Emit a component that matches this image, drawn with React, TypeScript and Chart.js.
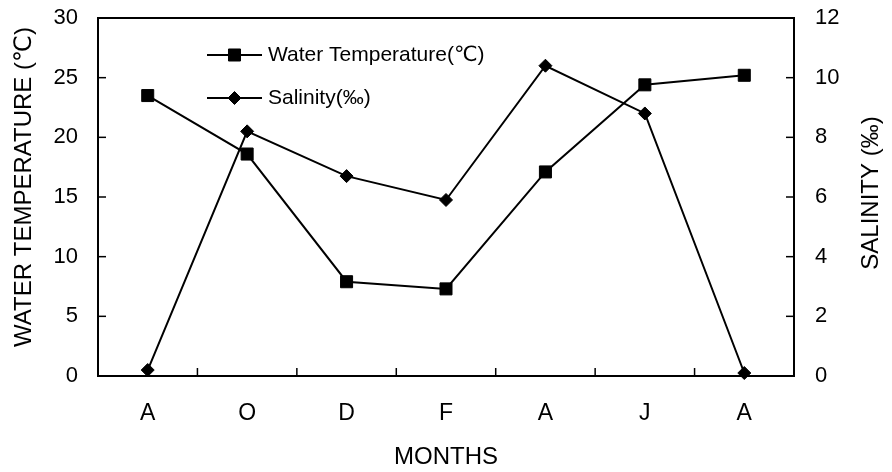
import React, { useEffect, useRef } from 'react';
import { Chart, registerables } from 'chart.js';
import { drawPoint } from 'chart.js/helpers';

Chart.register(...registerables);

const months = ['A', 'O', 'D', 'F', 'A', 'J', 'A'];
const waterTemp = [23.5, 18.6, 7.9, 7.3, 17.1, 24.4, 25.2];
const salinity = [0.2, 8.2, 6.7, 5.9, 10.4, 8.8, 0.1];
const seriesNames = ['Water Temperature(\u2103)', 'Salinity(\u2030)'];
const tempTitle = 'WATER TEMPERATURE (\u2103)';
const salTitle = 'SALINITY (\u2030)';
const xTitle = 'MONTHS';

const FONT = "'Liberation Sans', Arial, 'DejaVu Sans', 'Noto Sans CJK SC', sans-serif";

const framePlugin = {
  id: 'framePlugin',
  afterDatasetsDraw(chart: any) {
    const { ctx, chartArea: a, scales } = chart;
    ctx.save();
    ctx.strokeStyle = '#000';
    ctx.lineWidth = 2;
    ctx.beginPath();
    ctx.moveTo(a.left, a.top);
    ctx.lineTo(a.right, a.top);
    ctx.stroke();

    const L = 8;
    ctx.lineWidth = 1.5;
    const seg = (x1: number, y1: number, x2: number, y2: number) => {
      ctx.beginPath();
      ctx.moveTo(x1, y1);
      ctx.lineTo(x2, y2);
      ctx.stroke();
    };
    scales.y.ticks.forEach((_: any, i: number) => {
      const y = scales.y.getPixelForTick(i);
      seg(a.left, y, a.left + L, y);
    });
    scales.y1.ticks.forEach((_: any, i: number) => {
      const y = scales.y1.getPixelForTick(i);
      seg(a.right, y, a.right - L, y);
    });
    for (let i = 1; i < months.length; i++) {
      const x = (scales.x.getPixelForValue(i - 1) + scales.x.getPixelForValue(i)) / 2;
      seg(x, a.bottom, x, a.bottom - L);
    }

    // axis titles, reading bottom-to-top
    const vTitle = (text: string, x: number, y: number) => {
      ctx.save();
      ctx.fillStyle = '#000';
      ctx.font = `24px ${FONT}`;
      ctx.textAlign = 'center';
      ctx.textBaseline = 'middle';
      ctx.translate(x, y);
      ctx.rotate(-Math.PI / 2);
      ctx.fillText(text, 0, 0);
      ctx.restore();
    };
    vTitle(tempTitle, a.left - 74, (a.top + a.bottom) / 2 - 10);
    vTitle(salTitle, a.right + 77, (a.top + a.bottom) / 2 - 4);

    // legend
    const rows = [37, 80];
    chart.data.datasets.forEach((ds: any, i: number) => {
      const y = a.top + rows[i];
      const x0 = a.left + 109;
      const x1 = a.left + 164;
      ctx.strokeStyle = '#000';
      ctx.lineWidth = 2;
      seg(x0, y, x1, y);
      ctx.fillStyle = '#000';
      ctx.lineWidth = ds.pointBorderWidth;
      drawPoint(ctx, { pointStyle: ds.pointStyle, radius: ds.pointRadius, borderWidth: ds.pointBorderWidth, rotation: 0 } as any, (x0 + x1) / 2, y);
      ctx.fillStyle = '#000';
      ctx.font = `21px ${FONT}`;
      ctx.textBaseline = 'middle';
      ctx.textAlign = 'left';
      ctx.fillText(seriesNames[i], x1 + 6, y);
    });
    ctx.restore();
  },
};

export default function App() {
  const ref = useRef<HTMLCanvasElement>(null);
  useEffect(() => {
    const chart = new Chart(ref.current!, {
      type: 'line',
      data: {
        labels: months,
        datasets: [
          {
            label: seriesNames[0],
            data: waterTemp,
            yAxisID: 'y',
            borderColor: '#000',
            borderWidth: 2,
            backgroundColor: '#000',
            pointStyle: 'rect',
            pointRadius: 8.5,
            pointBorderWidth: 1,
            pointBackgroundColor: '#000',
            pointBorderColor: '#000',
            clip: false as any,
            tension: 0,
          },
          {
            label: seriesNames[1],
            data: salinity,
            yAxisID: 'y1',
            borderColor: '#000',
            borderWidth: 2,
            backgroundColor: '#000',
            pointStyle: 'rectRot',
            pointRadius: 6.5,
            pointBorderWidth: 1,
            pointBackgroundColor: '#000',
            pointBorderColor: '#000',
            clip: false as any,
            tension: 0,
          },
        ],
      },
      options: {
        animation: false,
        responsive: true,
        maintainAspectRatio: false,
        layout: { padding: { top: 18, left: 0, right: 0, bottom: 0 } },
        plugins: { legend: { display: false }, tooltip: { enabled: false } },
        scales: {
          x: {
            type: 'category',
            offset: true,
            grid: { display: false, drawTicks: false },
            border: { display: true, color: '#000', width: 2 },
            ticks: { color: '#000', font: { size: 23, family: FONT }, padding: 24, maxRotation: 0, autoSkip: false },
            title: { display: true, text: xTitle, color: '#000', font: { size: 24, family: FONT }, padding: { top: 0, bottom: 0 } },
            afterFit: (s: any) => { s.height = 96; s.paddingLeft = 0; s.paddingRight = 0; },
          },
          y: {
            position: 'left',
            min: 0,
            max: 30,
            grid: { display: false, drawTicks: false },
            border: { display: true, color: '#000', width: 2 },
            ticks: { stepSize: 5, color: '#000', font: { size: 22, family: FONT }, padding: 20 },
            afterFit: (s: any) => { s.width = 98; s.paddingTop = 0; s.paddingBottom = 0; },
          },
          y1: {
            position: 'right',
            min: 0,
            max: 12,
            grid: { display: false, drawTicks: false },
            border: { display: true, color: '#000', width: 2 },
            ticks: { stepSize: 2, color: '#000', font: { size: 22, family: FONT }, padding: 21 },
            afterFit: (s: any) => { s.width = 98; s.paddingTop = 0; s.paddingBottom = 0; },
          },
        },
      } as any,
      plugins: [framePlugin],
    });
    return () => chart.destroy();
  }, []);
  return (
    <div style={{ position: 'fixed', left: 0, top: 0, width: 892, height: 472, background: '#fff' }}>
      <canvas ref={ref} />
    </div>
  );
}
